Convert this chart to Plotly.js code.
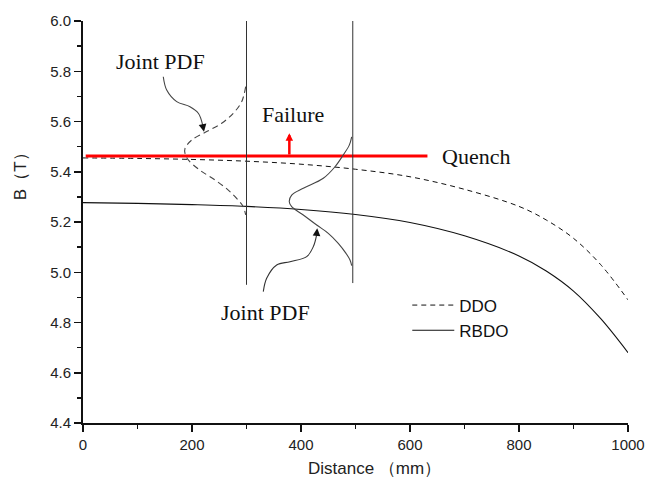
<!DOCTYPE html>
<html>
<head>
<meta charset="utf-8">
<script src="https://cdn.plot.ly/plotly-3.0.1.min.js"></script>
<style>html,body{margin:0;padding:0;background:#fff;}#chart{width:647px;height:487px;}</style>
</head>
<body>
<div id="chart"></div>
<script>
// Main curves
const distance = [0, 100, 200, 300, 400, 500, 600, 700, 800, 850, 900, 950, 1000];
const ddoB  = [5.455, 5.453, 5.449, 5.442, 5.430, 5.410, 5.380, 5.330, 5.262, 5.208, 5.135, 5.030, 4.890];
const rbdoB = [5.277, 5.274, 5.269, 5.262, 5.250, 5.230, 5.198, 5.145, 5.065, 5.005, 4.925, 4.815, 4.680];

// Quench threshold line
const quenchX = [5, 632];
const quenchY = [5.463, 5.463];

// Vertical reference lines
const vert1X = [300, 300];
const vert1Y = [4.95, 6.012];
const vert2X = [495, 495];
const vert2Y = [4.957, 6.031];

// Joint PDF shapes
const pdfDdoX = [298.5, 291.2, 275.8, 254.5, 227.0, 199.4, 187.2, 187.2, 193.2, 214.7, 242.2, 266.6, 284.9, 294.1, 298.5];
const pdfDdoY = [5.739, 5.679, 5.633, 5.593, 5.560, 5.526, 5.493, 5.473, 5.447, 5.406, 5.367, 5.327, 5.287, 5.261, 5.228];
const pdfRbdoX = [493.0, 488.6, 477.6, 462.4, 440.9, 404.2, 382.9, 378.5, 382.9, 404.2, 428.8, 450.1, 468.4, 482.6, 489.9, 493.0];
const pdfRbdoY = [5.539, 5.506, 5.467, 5.420, 5.374, 5.334, 5.307, 5.281, 5.261, 5.228, 5.188, 5.155, 5.115, 5.075, 5.049, 5.026];

// Curved pointer lines
const ptr1X = [147.3, 153.6, 171.9, 196.3, 211.6, 219.6];
const ptr1Y = [5.778, 5.725, 5.679, 5.659, 5.633, 5.586];
const ptr1Tip = [222.0, 5.559];
const ptr2X = [330.8, 337.0, 355.4, 379.8, 410.5, 422.6, 428.6];
const ptr2Y = [4.923, 4.976, 5.029, 5.042, 5.062, 5.102, 5.148];
const ptr2Tip = [429.8, 5.175];

// Failure arrow
const failX = 378.6;
const failY = [5.463, 5.553];

const yTicks = [4.4, 4.6, 4.8, 5.0, 5.2, 5.4, 5.6, 5.8, 6.0];
const xTicks = [0, 200, 400, 600, 800, 1000];

const serif = '"Liberation Serif", "Times New Roman", serif';
const sans = '"Liberation Sans", Arial, sans-serif';

const traces = [
  {x: distance, y: ddoB, name: 'DDO', mode: 'lines', line: {color: '#111', width: 1, dash: '5px,4px', shape: 'spline', smoothing: 1}},
  {x: distance, y: rbdoB, name: 'RBDO', mode: 'lines', line: {color: '#111', width: 1.1, shape: 'spline', smoothing: 1}},
  {x: quenchX, y: quenchY, mode: 'lines', showlegend: false, line: {color: '#ff0000', width: 3}},
  {x: vert1X, y: vert1Y, mode: 'lines', showlegend: false, cliponaxis: false, line: {color: '#333', width: 1}},
  {x: vert2X, y: vert2Y, mode: 'lines', showlegend: false, cliponaxis: false, line: {color: '#333', width: 1}},
  {x: pdfDdoX, y: pdfDdoY, mode: 'lines', showlegend: false, line: {color: '#444', width: 1.1, dash: '6px,4px', shape: 'spline', smoothing: 1}},
  {x: pdfRbdoX, y: pdfRbdoY, mode: 'lines', showlegend: false, line: {color: '#444', width: 1.1, shape: 'spline', smoothing: 1}},
  {x: ptr1X, y: ptr1Y, mode: 'lines', showlegend: false, line: {color: '#444', width: 1.1, shape: 'spline', smoothing: 1}},
  {x: ptr2X, y: ptr2Y, mode: 'lines', showlegend: false, line: {color: '#333', width: 1.1, shape: 'spline', smoothing: 1}}
];

const layout = {
  width: 647, height: 487,
  margin: {l: 83, r: 19, t: 21, b: 64},
  paper_bgcolor: '#fff', plot_bgcolor: '#fff',
  font: {family: sans, size: 15, color: '#222'},
  showlegend: true,
  legend: {x: 0.595, y: 0.337, xanchor: 'left', yanchor: 'top', bgcolor: 'rgba(0,0,0,0)', borderwidth: 0,
           itemwidth: 42, font: {family: sans, size: 17, color: '#111'}, tracegroupgap: 0},
  xaxis: {range: [0, 1000], tickvals: xTicks, ticks: 'outside', ticklen: 7, tickwidth: 1.5, tickcolor: '#111',
          showline: true, linecolor: '#111', linewidth: 2, showgrid: false, zeroline: false,
          minor: {ticks: 'outside', ticklen: 4, tickwidth: 1.5, tickcolor: '#111', dtick: 100, tick0: 0, showgrid: false},
          tickfont: {family: sans, size: 15, color: '#222'}},
  yaxis: {range: [4.4, 6.0], tickvals: yTicks, tickformat: '.1f', ticks: 'outside', ticklen: 7, tickwidth: 1.5, tickcolor: '#111',
          showline: true, linecolor: '#111', linewidth: 2, showgrid: false, zeroline: false,
          minor: {ticks: 'outside', ticklen: 4, tickwidth: 1.5, tickcolor: '#111', dtick: 0.1, tick0: 4.4, showgrid: false},
          tickfont: {family: sans, size: 15, color: '#222'}},
  annotations: [
    {xref: 'paper', yref: 'paper', x: 0.535, y: -0.112, text: 'Distance （mm）', showarrow: false,
     font: {family: sans, size: 17, color: '#222'}, xanchor: 'center', yanchor: 'middle'},
    {xref: 'paper', yref: 'paper', x: -0.1156, y: 0.624, text: 'B（T）', showarrow: false, textangle: -90,
     font: {family: sans, size: 17, color: '#222'}, xanchor: 'center', yanchor: 'middle'},
    {x: 142.8, y: 5.837, text: 'Joint PDF', showarrow: false, font: {family: serif, size: 22, color: '#111'}},
    {x: 334, y: 4.838, text: 'Joint PDF', showarrow: false, font: {family: serif, size: 22, color: '#111'}},
    {x: 384.4, y: 5.628, text: 'Failure', showarrow: false, font: {family: serif, size: 22, color: '#111'}},
    {x: 721.7, y: 5.459, text: 'Quench', showarrow: false, font: {family: serif, size: 22, color: '#111'}},
    {x: failX, y: failY[1], ax: failX, ay: failY[0], axref: 'x', ayref: 'y', text: '', showarrow: true,
     arrowhead: 2, arrowsize: 0.6, arrowwidth: 2.5, arrowcolor: '#ff0000'},
    {x: ptr1Tip[0], y: ptr1Tip[1], ax: ptr1X[ptr1X.length - 1], ay: ptr1Y[ptr1Y.length - 1], axref: 'x', ayref: 'y',
     text: '', showarrow: true, arrowhead: 2, arrowsize: 1.4, arrowwidth: 1.1, arrowcolor: '#111'},
    {x: ptr2Tip[0], y: ptr2Tip[1], ax: ptr2X[ptr2X.length - 1], ay: ptr2Y[ptr2Y.length - 1], axref: 'x', ayref: 'y',
     text: '', showarrow: true, arrowhead: 2, arrowsize: 1.4, arrowwidth: 1.1, arrowcolor: '#111'}
  ]
};

Plotly.newPlot('chart', traces, layout, {displayModeBar: false, staticPlot: true});
</script>
</body>
</html>
